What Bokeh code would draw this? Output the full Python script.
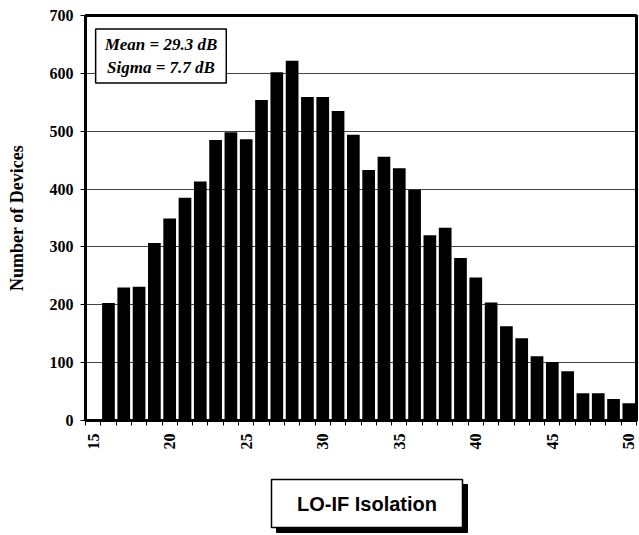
import math
from bokeh.plotting import figure
from bokeh.models import Range1d, FixedTicker, Label, ColumnDataSource, LinearAxis
from bokeh.layouts import column
from bokeh.core.properties import value
from bokeh.embed import file_html
from bokeh.resources import INLINE

# Data
categories = list(range(15, 51))
counts = [0, 203, 230, 231, 307, 349, 385, 413, 485, 498, 486, 554, 602, 622,
          559, 559, 535, 494, 433, 456, 436, 399, 320, 333, 281, 247, 204,
          163, 142, 111, 101, 85, 47, 47, 37, 30]
x_tick_labels = [15, 20, 25, 30, 35, 40, 45, 50]
y_ticks = [0, 100, 200, 300, 400, 500, 600, 700]
stats_text = "Mean = 29.3 dB\nSigma = 7.7 dB"
x_title = "LO-IF Isolation"
y_title = "Number of Devices"

src = ColumnDataSource(dict(x=categories, top=counts))

W, BL, BR = 639, 85, 3
x_lo, x_hi = categories[0] - 0.5, categories[-1] + 0.5
y_lo, y_hi = y_ticks[0], y_ticks[-1]

p = figure(width=W, height=455, output_backend="svg", toolbar_location=None,
           x_range=Range1d(x_lo, x_hi), y_range=Range1d(y_lo, y_hi),
           min_border_left=BL, min_border_right=BR, min_border_top=15, min_border_bottom=35)

p.vbar(x="x", top="top", width=0.83, source=src, fill_color="black", line_color=None)

serif = "Liberation Serif"

# x axis
p.xaxis.ticker = FixedTicker(ticks=x_tick_labels,
                             minor_ticks=[c - 0.5 for c in categories] + [x_hi])
p.xaxis.major_tick_line_color = None
p.xaxis.major_tick_out = 5
p.xaxis.major_tick_in = 0
p.xaxis.minor_tick_out = 5
p.xaxis.minor_tick_in = 0
p.xaxis.minor_tick_line_color = "black"
p.xaxis.minor_tick_line_width = 1
p.xaxis.major_label_orientation = math.pi / 2
p.xaxis.major_label_text_font = serif
p.xaxis.major_label_text_font_style = "bold"
p.xaxis.major_label_text_font_size = "16px"
p.xaxis.major_label_text_color = "black"
p.xaxis.major_label_standoff = 8
p.xaxis.axis_line_width = 2
p.xaxis.axis_line_color = "black"

# y axis
p.yaxis.ticker = FixedTicker(ticks=y_ticks)
p.yaxis.minor_tick_line_color = None
p.yaxis.major_tick_out = 5
p.yaxis.major_tick_in = 0
p.yaxis.major_tick_line_color = "black"
p.yaxis.major_label_text_font = serif
p.yaxis.major_label_text_font_style = "bold"
p.yaxis.major_label_text_font_size = "16px"
p.yaxis.major_label_text_color = "black"
p.yaxis.major_label_standoff = 7
p.yaxis.axis_line_width = 3
p.yaxis.axis_line_color = "black"
p.yaxis.axis_label = y_title
p.yaxis.axis_label_text_font = serif
p.yaxis.axis_label_text_font_style = "bold"
p.yaxis.axis_label_text_font_size = "18px"
p.yaxis.axis_label_text_color = "black"
p.yaxis.axis_label_standoff = 20

# right frame edge as a bare axis line (no ticks, no labels)
right_edge = LinearAxis(ticker=FixedTicker(ticks=[]), axis_line_width=3,
                        axis_line_color="black", major_tick_out=0, major_tick_in=0,
                        minor_tick_out=0, minor_tick_in=0, major_label_standoff=0,
                        major_label_text_font_size="0px")
p.add_layout(right_edge, "right")

p.xgrid.grid_line_color = None
p.ygrid.ticker = FixedTicker(ticks=y_ticks)
p.ygrid.grid_line_color = "#444444"
p.ygrid.grid_line_width = 1

p.outline_line_color = "black"
p.outline_line_width = 3
p.outline_line_alpha = 1
p.background_fill_color = "white"
p.border_fill_color = "white"

# stats box
p.add_layout(Label(x=19.43, y=630, text=stats_text, text_align="center",
                   text_baseline="middle", text_font=serif,
                   text_font_style="bold italic", text_font_size="17px",
                   text_color="black", background_fill_color="white",
                   border_line_color="black", border_line_width=1.5,
                   padding=dict(left=9, right=9, top=6, bottom=6)))

# x title box with shadow (strip below the chart; x in page pixels)
p2 = figure(width=W, height=78, output_backend="svg", toolbar_location=None,
            x_range=Range1d(BL, W - BR), y_range=Range1d(0, 78),
            min_border_left=BL, min_border_right=BR, min_border_top=0, min_border_bottom=0)
p2.axis.visible = False
p2.grid.grid_line_color = None
p2.outline_line_color = None
p2.background_fill_color = "white"
p2.border_fill_color = "white"

p2.quad(left=[276], right=[467], bottom=[1], top=[49],
        fill_color="black", line_color="black")
p2.quad(left=[271], right=[462], bottom=[6], top=[54],
        fill_color="white", line_color="black", line_width=1.5)
p2.text(x=[366.5], y=[30], text=[x_title], text_align="center",
        text_baseline="middle", text_font=value("Liberation Sans"),
        text_font_style="bold", text_font_size="20px", text_color="black")

layout = column(p, p2)
open("out.html", "w").write(file_html(layout, INLINE))
